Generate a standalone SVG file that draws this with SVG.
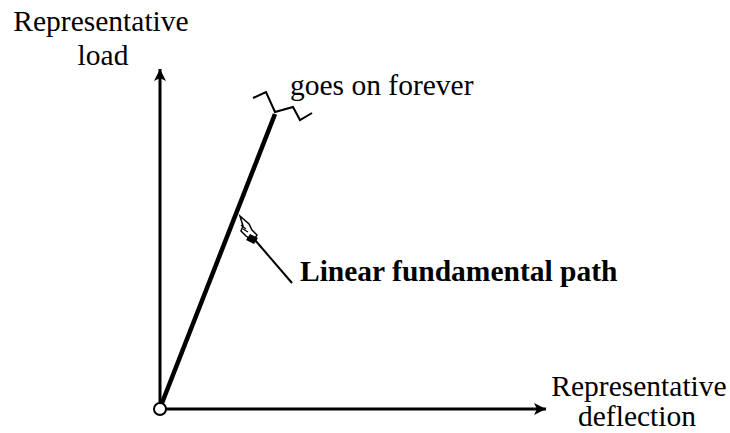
<svg xmlns="http://www.w3.org/2000/svg" width="730" height="433" viewBox="0 0 730 433">
<style>
text{font-family:"Liberation Serif","Times New Roman",serif;font-size:29.5px;fill:#000}
.b{font-weight:bold}
.ax{stroke:#000;stroke-width:3;fill:none}
</style>
<defs>
<marker id="ah" markerWidth="14" markerHeight="12" refX="12" refY="6" orient="auto" markerUnits="userSpaceOnUse">
<path d="M0,0 L12,6 L0,12 L3,6 Z" fill="#000"/>
</marker>
</defs>
<rect width="730" height="433" fill="#fff"/>
<g id="connectors">
<line class="ax" x1="160" y1="403" x2="160" y2="69" marker-end="url(#ah)"/>
<line class="ax" x1="166" y1="409" x2="546" y2="409" marker-end="url(#ah)"/>
<line x1="162" y1="403" x2="275" y2="114" stroke="#000" stroke-width="4.5"/>
<polyline points="253,98 266,92 275,112 293,107 300,120 312,113" fill="none" stroke="#000" stroke-width="2"/>
<line x1="255" y1="240" x2="292" y2="283" stroke="#000" stroke-width="2"/>
</g>
<g id="origin"><circle cx="160" cy="409" r="6" fill="#fff" stroke="#000" stroke-width="2"/></g>
<g id="pointer">
<path d="M240,216 L249,224 L252,230 L257,235 L253,241 L246,236 L241,231 L243,226 Z" fill="#fff" stroke="#000" stroke-width="1.5"/>
<path d="M250,234 L258,238 L254,244 L246,240 Z" fill="#000"/>
<path d="M241,225 L246,229 M243,229 L248,232" stroke="#000" stroke-width="1.2"/>
</g>
<g id="ylabel">
<text x="101" y="31" text-anchor="middle">Representative</text>
<text x="103" y="65" text-anchor="middle">load</text>
</g>
<g id="xlabel">
<text x="639" y="396" text-anchor="middle">Representative</text>
<text x="637" y="426" text-anchor="middle">deflection</text>
</g>
<g id="forever"><text x="290" y="95">goes on forever</text></g>
<g id="path-label"><text class="b" x="300" y="281">Linear fundamental path</text></g>
</svg>
